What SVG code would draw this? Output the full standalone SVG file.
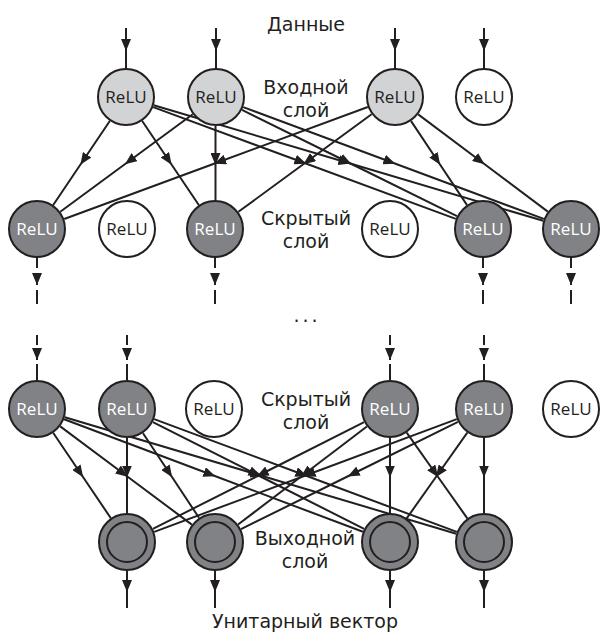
<svg xmlns="http://www.w3.org/2000/svg" width="600" height="633" viewBox="0 0 600 633">
<style>
  .c { stroke:#231f20; stroke-width:2; }
  .in { fill:#d1d3d4; }
  .off { fill:#ffffff; }
  .hid { fill:#808285; }
  .t { font-family:"Open Sans","DejaVu Sans",sans-serif; font-size:17px; text-anchor:middle; fill:#231f20; }
  .tw { fill:#ffffff; }
  .lbl { font-family:"DejaVu Sans","Open Sans",sans-serif; font-size:19px; text-anchor:middle; fill:#231f20; }
  .ln { fill:none; stroke:#231f20; stroke-width:2; }
  .m { marker-mid:url(#ah); }
  .e { marker-end:url(#ahEnd); }
</style>
<defs>
  <marker id="ah" viewBox="0 0 12 10" refX="10" refY="5" markerWidth="12" markerHeight="10" markerUnits="userSpaceOnUse" orient="auto">
    <path d="M0,0 L12,5 L0,10 z" fill="#231f20"/>
  </marker>
  <marker id="ahEnd" viewBox="0 0 12 10" refX="12" refY="5" markerWidth="12" markerHeight="10" markerUnits="userSpaceOnUse" orient="auto">
    <path d="M0,0 L12,5 L0,10 z" fill="#231f20"/>
  </marker>
</defs>

<g id="connectors">
  <!-- data inputs -->
  <path class="ln m" d="M126,28 L126,49 L126,69"/>
  <path class="ln m" d="M216,28 L216,49 L216,69"/>
  <path class="ln m" d="M395,28 L395,49 L395,69"/>
  <path class="ln m" d="M484,28 L484,49 L484,69"/>
  <!-- input to hidden -->
  <path class="ln m" d="M109.8,121 L81.5,163 L53.2,205"/>
  <path class="ln m" d="M142.2,121 L170.5,163 L198.8,205"/>
  <path class="ln m" d="M153.2,107.1 L304.5,163 L455.8,218.9"/>
  <path class="ln m" d="M153.8,105.2 L348.5,163 L543.2,220.8"/>
  <path class="ln m" d="M192.7,114.2 L126.5,163 L60.3,211.8"/>
  <path class="ln m" d="M215.5,126 L215.5,163 L215.5,200"/>
  <path class="ln m" d="M242,109.9 L349.5,163 L457,216.1"/>
  <path class="ln m" d="M243.2,107.1 L393.5,163 L543.8,218.9"/>
  <path class="ln m" d="M367.8,107 L216,163 L64.2,219"/>
  <path class="ln m" d="M371.6,114.2 L305,163 L238.4,211.8"/>
  <path class="ln m" d="M411.1,121.1 L439,163 L466.9,204.9"/>
  <path class="ln m" d="M418.2,114.4 L483,163 L547.8,211.6"/>
  <!-- hidden 1 outgoing dashed -->
  <path class="ln" d="M37,258 V268 M37,290 V304 M215,258 V268 M215,290 V304 M483,258 V268 M483,290 V304 M571,258 V268 M571,290 V304"/>
  <path class="ln e" d="M37,273 V285"/>
  <path class="ln e" d="M215,273 V285"/>
  <path class="ln e" d="M483,273 V285"/>
  <path class="ln e" d="M571,273 V285"/>
  <!-- hidden 2 incoming dashed -->
  <path class="ln" d="M37,335 V345 M37,364 V380 M127,335 V345 M127,364 V380 M390,335 V345 M390,364 V380 M484,335 V345 M484,364 V380"/>
  <path class="ln e" d="M37,348 V360"/>
  <path class="ln e" d="M127,348 V360"/>
  <path class="ln e" d="M390,348 V360"/>
  <path class="ln e" d="M484,348 V360"/>
  <!-- hidden 2 to output -->
  <path class="ln m" d="M53.3,433 L82,475.5 L110.7,518"/>
  <path class="ln m" d="M60.2,426.4 L126,475.5 L191.8,524.6"/>
  <path class="ln m" d="M64.1,419.2 L213.5,475.5 L362.9,531.8"/>
  <path class="ln m" d="M64.8,417.3 L260.5,475.5 L456.2,533.7"/>
  <path class="ln m" d="M127,438 L127,475.5 L127,513"/>
  <path class="ln m" d="M143,433.2 L171,475.5 L199,517.8"/>
  <path class="ln m" d="M152.9,422.1 L258.5,475.5 L364.1,528.9"/>
  <path class="ln m" d="M154.2,419.1 L305.5,475.5 L456.8,531.9"/>
  <path class="ln m" d="M364.1,422.1 L258.5,475.5 L152.9,528.9"/>
  <path class="ln m" d="M366.9,426.5 L302.5,475.5 L238.1,524.5"/>
  <path class="ln m" d="M390,438 L390,475.5 L390,513"/>
  <path class="ln m" d="M406.7,432.7 L437,475.5 L467.3,518.3"/>
  <path class="ln m" d="M456.8,419.1 L305.5,475.5 L154.2,531.9"/>
  <path class="ln m" d="M458,421.9 L349.5,475.5 L241,529.1"/>
  <path class="ln m" d="M467.3,432.7 L437,475.5 L406.7,518.3"/>
  <path class="ln m" d="M484,438 L484,475.5 L484,513"/>
  <!-- outputs -->
  <path class="ln m" d="M127,571 L127,590 L127,608"/>
  <path class="ln m" d="M215,571 L215,590 L215,608"/>
  <path class="ln m" d="M390,571 L390,590 L390,608"/>
  <path class="ln m" d="M484,571 L484,590 L484,608"/>
</g>

<!-- input layer -->
<g id="in1"><circle class="c in" cx="126" cy="97" r="28"/><text class="t" x="126" y="103">ReLU</text></g>
<g id="in2"><circle class="c in" cx="216" cy="97" r="28"/><text class="t" x="216" y="103">ReLU</text></g>
<g id="in3"><circle class="c in" cx="395" cy="97" r="28"/><text class="t" x="395" y="103">ReLU</text></g>
<g id="in4"><circle class="c off" cx="484" cy="97" r="28"/><text class="t" x="484" y="103">ReLU</text></g>

<!-- hidden layer 1 -->
<g id="h1"><circle class="c hid" cx="37" cy="229" r="28"/><text class="t tw" x="37" y="235">ReLU</text></g>
<g id="h2"><circle class="c off" cx="127" cy="229" r="28"/><text class="t" x="127" y="235">ReLU</text></g>
<g id="h3"><circle class="c hid" cx="215" cy="229" r="28"/><text class="t tw" x="215" y="235">ReLU</text></g>
<g id="h4"><circle class="c off" cx="390" cy="229" r="28"/><text class="t" x="390" y="235">ReLU</text></g>
<g id="h5"><circle class="c hid" cx="483" cy="229" r="28"/><text class="t tw" x="483" y="235">ReLU</text></g>
<g id="h6"><circle class="c hid" cx="571" cy="229" r="28"/><text class="t tw" x="571" y="235">ReLU</text></g>

<!-- hidden layer 2 -->
<g id="g1"><circle class="c hid" cx="37" cy="409" r="28"/><text class="t tw" x="37" y="415">ReLU</text></g>
<g id="g2"><circle class="c hid" cx="127" cy="409" r="28"/><text class="t tw" x="127" y="415">ReLU</text></g>
<g id="g3"><circle class="c off" cx="214" cy="409" r="28"/><text class="t" x="214" y="415">ReLU</text></g>
<g id="g4"><circle class="c hid" cx="390" cy="409" r="28"/><text class="t tw" x="390" y="415">ReLU</text></g>
<g id="g5"><circle class="c hid" cx="484" cy="409" r="28"/><text class="t tw" x="484" y="415">ReLU</text></g>
<g id="g6"><circle class="c off" cx="571" cy="409" r="28"/><text class="t" x="571" y="415">ReLU</text></g>

<!-- output layer -->
<g id="o1"><circle class="c hid" cx="127" cy="542" r="28"/><circle class="c hid" cx="127" cy="542" r="20"/></g>
<g id="o2"><circle class="c hid" cx="215" cy="542" r="28"/><circle class="c hid" cx="215" cy="542" r="20"/></g>
<g id="o3"><circle class="c hid" cx="390" cy="542" r="28"/><circle class="c hid" cx="390" cy="542" r="20"/></g>
<g id="o4"><circle class="c hid" cx="484" cy="542" r="28"/><circle class="c hid" cx="484" cy="542" r="20"/></g>

<!-- labels -->
<g id="labels">
  <text class="lbl" x="306" y="31">Данные</text>
  <text class="lbl" x="306" y="94">Входной<tspan x="306" dy="22.5">слой</tspan></text>
  <text class="lbl" x="306" y="225">Скрытый<tspan x="306" dy="22.5">слой</tspan></text>
  <text class="lbl" x="307" y="322" style="letter-spacing:3px">...</text>
  <text class="lbl" x="306" y="406">Скрытый<tspan x="306" dy="22.5">слой</tspan></text>
  <text class="lbl" x="305" y="545">Выходной<tspan x="305" dy="22.5">слой</tspan></text>
  <text class="lbl" x="305" y="628">Унитарный вектор</text>
</g>
</svg>
